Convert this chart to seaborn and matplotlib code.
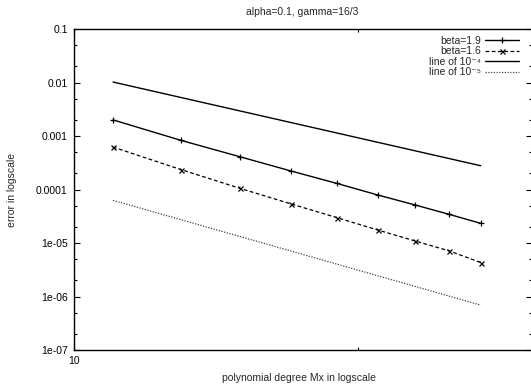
import numpy as np
import pandas as pd
import matplotlib
matplotlib.use("Agg")
import matplotlib.pyplot as plt
import matplotlib.ticker as mticker
import seaborn as sns

# ---- data ----
mx = [11, 13, 15, 17, 19, 21, 23, 25, 27]
beta_19 = [2.00e-3, 8.24e-4, 4.09e-4, 2.21e-4, 1.30e-4, 7.89e-5, 5.14e-5, 3.43e-5, 2.33e-5]
beta_16 = [6.21e-4, 2.34e-4, 1.05e-4, 5.36e-5, 2.98e-5, 1.75e-5, 1.09e-5, 7.12e-6, 4.31e-6]
ref_x = [11, 27]
line_1e4 = [1.02e-2, 2.78e-4]
line_1e5 = [6.27e-5, 6.9e-7]

y_ticks = [1e-7, 1e-6, 1e-5, 1e-4, 1e-3, 1e-2, 1e-1]
y_tick_labels = ["1e-07", "1e-06", "1e-05", "0.0001", "0.001", "0.01", "0.1"]
x_ticks = [10]
x_tick_labels = ["10"]
x_minor = [20]

title = "alpha=0.1, gamma=16/3"
xlabel = "polynomial degree Mx in logscale"
ylabel = "error in logscale"
series_labels = ["beta=1.9", "beta=1.6", "line of 10\u207b\u2074", "line of 10\u207b\u2075"]

sns.set_style("ticks")
plt.rcParams["font.family"] = ["Liberation Sans", "DejaVu Sans"]
FS = 7.5

fig = plt.figure(figsize=(5.31, 3.87), dpi=100)
ax = fig.add_axes([74 / 531, 37 / 387, (532 - 74) / 531, (350 - 29) / 387])

df_main = pd.DataFrame({"mx": mx, "b19": beta_19, "b16": beta_16})
df_ref = pd.DataFrame({"x": ref_x, "l4": line_1e4, "l5": line_1e5})

sns.lineplot(data=df_main, x="mx", y="b19", ax=ax, color="black", lw=1.0,
             marker="+", markersize=4.5, markeredgewidth=0.9,
             markeredgecolor="black", label=series_labels[0])
sns.lineplot(data=df_main, x="mx", y="b16", ax=ax, color="black", lw=0.9,
             linestyle=(0, (3, 2)), marker="x", markersize=3.6, markeredgewidth=0.9,
             markeredgecolor="black", label=series_labels[1])
sns.lineplot(data=df_ref, x="x", y="l4", ax=ax, color="black", lw=1.0,
             label=series_labels[2])
sns.lineplot(data=df_ref, x="x", y="l5", ax=ax, color="#444444", lw=0.9,
             linestyle=(0, (1, 1.2)), label=series_labels[3])

ax.set_xscale("log")
ax.set_yscale("log")
ax.set_xlim(10, 30.6)
ax.set_ylim(1e-7, 0.1)

ax.yaxis.set_major_locator(mticker.FixedLocator(y_ticks))
ax.yaxis.set_major_formatter(mticker.FixedFormatter(y_tick_labels))
ax.yaxis.set_minor_locator(mticker.LogLocator(base=10, subs=(2.0, 5.0), numticks=20))
ax.yaxis.set_minor_formatter(mticker.NullFormatter())
ax.xaxis.set_major_locator(mticker.FixedLocator(x_ticks))
ax.xaxis.set_major_formatter(mticker.FixedFormatter(x_tick_labels))
ax.xaxis.set_minor_locator(mticker.FixedLocator(x_minor))
ax.xaxis.set_minor_formatter(mticker.NullFormatter())

ax.tick_params(which="both", direction="in", top=True, right=True,
               labelsize=FS, colors="black", width=0.8)
ax.tick_params(which="major", length=4.5, pad=4.5)
ax.tick_params(which="minor", length=2.5)
for s in ax.spines.values():
    s.set_visible(True)
    s.set_linewidth(1.0)
    s.set_color("black")

ax.set_xlabel("")
ax.set_ylabel("")
fig.text(302 / 531, 1 - 12 / 387, title, ha="center", va="center", fontsize=FS)
fig.text(299 / 531, 1 - 378 / 387, xlabel, ha="center", va="center", fontsize=FS)
fig.text(12 / 531, 1 - 190 / 387, ylabel, ha="center", va="center",
         rotation=90, fontsize=FS)

leg = ax.legend(loc="upper right", bbox_to_anchor=(0.980, 0.992), frameon=False,
                markerfirst=False, fontsize=FS, handlelength=3.2,
                handletextpad=0.4, labelspacing=0.05, borderaxespad=0.0,
                borderpad=0.4)

fig.savefig("out.png", dpi=100)
